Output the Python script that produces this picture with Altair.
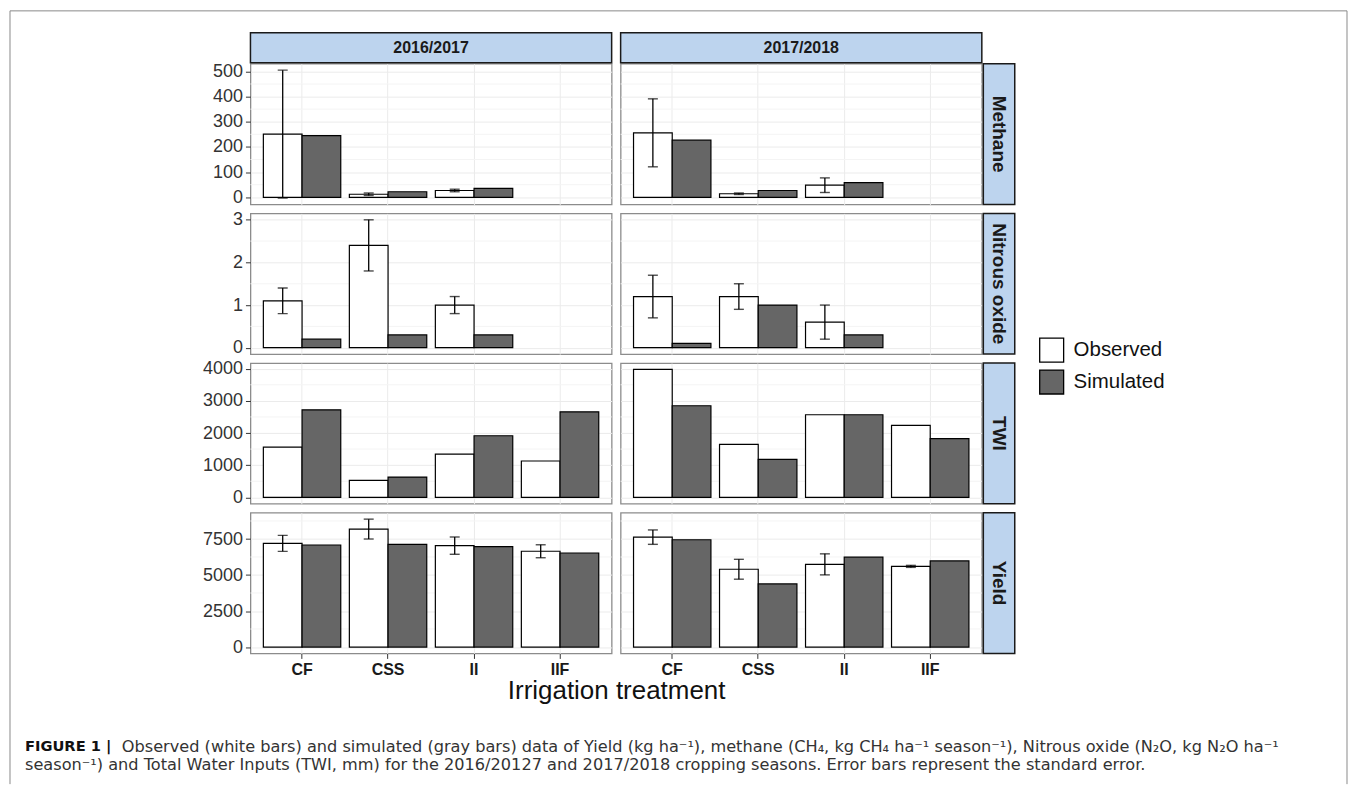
import altair as alt
import pandas as pd

seasons = ["2016/2017", "2017/2018"]
variables = ["Methane", "Nitrous oxide", "TWI", "Yield"]
treatments = ["CF", "CSS", "II", "IIF"]
series = ["Observed", "Simulated"]

# values per treatment (CF, CSS, II, IIF); None = not available
methane_obs_2016 = [251, 12, 27, None]
methane_se_2016 = [254, 5, 5, None]
methane_sim_2016 = [245, 22, 35, None]
methane_obs_2017 = [256, 14, 48, None]
methane_se_2017 = [135, 3, 29, None]
methane_sim_2017 = [227, 27, 58, None]

n2o_obs_2016 = [1.1, 2.4, 1.0, None]
n2o_se_2016 = [0.3, 0.6, 0.2, None]
n2o_sim_2016 = [0.2, 0.3, 0.3, None]
n2o_obs_2017 = [1.2, 1.2, 0.6, None]
n2o_se_2017 = [0.5, 0.3, 0.4, None]
n2o_sim_2017 = [0.1, 1.0, 0.3, None]

twi_obs_2016 = [1560, 530, 1345, 1130]
twi_sim_2016 = [2720, 630, 1915, 2660]
twi_obs_2017 = [3975, 1646, 2567, 2236]
twi_sim_2017 = [2847, 1180, 2567, 1823]

yield_obs_2016 = [7200, 8190, 7040, 6650]
yield_se_2016 = [555, 690, 600, 450]
yield_sim_2016 = [7085, 7130, 6970, 6530]
yield_obs_2017 = [7630, 5400, 5740, 5600]
yield_se_2017 = [500, 690, 730, 70]
yield_sim_2017 = [7450, 4380, 6240, 5980]

methane_ticks = [0, 100, 200, 300, 400, 500]
methane_minor = [50, 150, 250, 350, 450]
n2o_ticks = [0, 1, 2, 3]
n2o_minor = [0.5, 1.5, 2.5]
twi_ticks = [0, 1000, 2000, 3000, 4000]
twi_minor = [500, 1500, 2500, 3500]
yield_ticks = [0, 2500, 5000, 7500]
yield_minor = [1250, 3750, 6250, 8750]

x_title = "Irrigation treatment"
caption_head = "FIGURE 1 |"
caption_line1 = ("Observed (white bars) and simulated (gray bars) data of Yield (kg ha\u207b\u00b9), "
                 "methane (CH\u2084, kg CH\u2084 ha\u207b\u00b9 season\u207b\u00b9), Nitrous oxide (N\u2082O, kg N\u2082O ha\u207b\u00b9")
caption_line2 = ("season\u207b\u00b9) and Total Water Inputs (TWI, mm) for the 2016/20127 and 2017/2018 "
                 "cropping seasons. Error bars represent the standard error.")

OBS = {
    "Methane": [methane_obs_2016, methane_obs_2017],
    "Nitrous oxide": [n2o_obs_2016, n2o_obs_2017],
    "TWI": [twi_obs_2016, twi_obs_2017],
    "Yield": [yield_obs_2016, yield_obs_2017],
}
SIM = {
    "Methane": [methane_sim_2016, methane_sim_2017],
    "Nitrous oxide": [n2o_sim_2016, n2o_sim_2017],
    "TWI": [twi_sim_2016, twi_sim_2017],
    "Yield": [yield_sim_2016, yield_sim_2017],
}
SE = {
    "Methane": [methane_se_2016, methane_se_2017],
    "Nitrous oxide": [n2o_se_2016, n2o_se_2017],
    "TWI": [None, None],
    "Yield": [yield_se_2016, yield_se_2017],
}
TICKS = {
    "Methane": (methane_ticks, methane_minor),
    "Nitrous oxide": (n2o_ticks, n2o_minor),
    "TWI": (twi_ticks, twi_minor),
    "Yield": (yield_ticks, yield_minor),
}

W, H = 362, 141
GAP = 9
FONT = "Liberation Sans"
CAP_FONT = "DejaVu Sans"
STRIP_FILL = "#BDD4EE"
GRID = "#EBEBEB"
MINOR = "#F4F4F4"
SIM_FILL = "#666666"


def tables(var, c):
    obs, sim = OBS[var][c], SIM[var][c]
    se = SE[var][c]
    bars, errs = [], []
    for i, t in enumerate(treatments):
        if obs[i] is not None:
            bars.append({"treatment": t, "series": "Observed", "value": obs[i]})
            if se is not None and se[i] is not None:
                errs.append({"treatment": t, "series": "Observed",
                             "lo": obs[i] - se[i], "hi": obs[i] + se[i]})
        if sim[i] is not None:
            bars.append({"treatment": t, "series": "Simulated", "value": sim[i]})
    return pd.DataFrame(bars), pd.DataFrame(errs)


def row_domain(var):
    vals = [0]
    for c in range(len(seasons)):
        b, e = tables(var, c)
        vals += list(b["value"])
        if len(e):
            vals += list(e["lo"]) + list(e["hi"])
    lo, hi = min(vals), max(vals)
    pad = 0.05 * (hi - lo)
    return [lo - pad, hi + pad]


fill_scale = alt.Scale(domain=series, range=["white", SIM_FILL])
legend = alt.Legend(title=None, orient="none", legendX=790, legendY=274,
                    symbolType="square", symbolSize=576, symbolStrokeColor="black",
                    symbolStrokeWidth=1.3, symbolOpacity=1, labelFontSize=20.5,
                    labelFont=FONT, labelColor="#111", rowPadding=2, labelOffset=9,
                    padding=0)
x_scale = alt.Scale(domain=treatments, paddingInner=0.1, paddingOuter=0.15)
off_scale = alt.Scale(domain=series, paddingInner=0, paddingOuter=0)


def make_panel(r, c):
    var = variables[r]
    season = seasons[c]
    bars, errs = tables(var, c)
    ticks, minor = TICKS[var]
    y_scale = alt.Scale(domain=row_domain(var), nice=False, zero=False)

    if c == 0:
        y_axis = alt.Axis(title=None, values=ticks, format="d", labelFontSize=18,
                          labelColor="#333333", labelFont=FONT, tickColor="#333333",
                          tickSize=5, tickWidth=1, labelPadding=3, domain=False, grid=True,
                          gridColor=GRID, gridWidth=1)
    else:
        y_axis = alt.Axis(title=None, values=ticks, labels=False, ticks=False,
                          domain=False, grid=True, gridColor=GRID, gridWidth=1)

    if r == len(variables) - 1:
        kw = dict(labelAngle=0, labelFontWeight="bold", labelFontSize=16,
                  labelColor="#1a1a1a", labelFont=FONT, tickSize=5, tickColor="#333333",
                  labelPadding=3, domain=False, grid=True, gridColor=GRID,
                  bandPosition=0.5)
        if c == 0:
            x_axis = alt.Axis(title=x_title, titleFontSize=26, titleFontWeight="normal",
                              titleFont=FONT, titleColor="#111", titleX=(2 * W + GAP) / 2,
                              titleY=37, titleBaseline="middle", titleAlign="center", **kw)
        else:
            x_axis = alt.Axis(title=None, **kw)
    else:
        x_axis = alt.Axis(title=None, labels=False, ticks=False, domain=False, grid=True,
                          gridColor=GRID, bandPosition=0.5)

    X = alt.X("treatment:N", scale=x_scale, axis=x_axis, sort=treatments)
    XO = alt.XOffset("series:N", scale=off_scale, sort=series)

    layers = []
    layers.append(
        alt.Chart(pd.DataFrame({"v": minor})).mark_rule(color=MINOR, strokeWidth=1).encode(
            y=alt.Y("v:Q", scale=y_scale, axis=y_axis)))
    layers.append(
        alt.Chart(bars).mark_bar(stroke="black", strokeWidth=1.2).encode(
            x=X, xOffset=XO,
            y=alt.Y("value:Q", scale=y_scale, axis=y_axis),
            fill=alt.Fill("series:N", scale=fill_scale, legend=legend)))
    if len(errs):
        layers.append(
            alt.Chart(errs).mark_rule(color="black", strokeWidth=1.3).encode(
                x=X, xOffset=XO,
                y=alt.Y("lo:Q", scale=y_scale, axis=y_axis), y2="hi:Q"))
        for f in ["lo", "hi"]:
            layers.append(
                alt.Chart(errs).mark_tick(color="black", thickness=1.4, size=10,
                                          orient="horizontal").encode(
                    x=X, xOffset=XO, y=alt.Y(f + ":Q", scale=y_scale, axis=y_axis)))

    if r == 0:
        sdf = pd.DataFrame({"label": [season]})
        layers.append(alt.Chart(sdf).mark_rect(fill=STRIP_FILL, stroke="#1a1a1a",
                                               strokeWidth=1.5).encode(
            x=alt.value(0), x2=alt.value(W), y=alt.value(-31), y2=alt.value(-1)))
        layers.append(alt.Chart(sdf).mark_text(fontSize=16, fontWeight="bold", font=FONT,
                                               color="#1a1a1a", baseline="middle").encode(
            x=alt.value(W / 2), y=alt.value(-16), text="label:N"))
    if c == len(seasons) - 1:
        vdf = pd.DataFrame({"label": [var]})
        layers.append(alt.Chart(vdf).mark_rect(fill=STRIP_FILL, stroke="#1a1a1a",
                                               strokeWidth=1.5).encode(
            x=alt.value(W + 1.5), x2=alt.value(W + 33), y=alt.value(0), y2=alt.value(H)))
        layers.append(alt.Chart(vdf).mark_text(fontSize=19, fontWeight="bold", font=FONT,
                                               color="#1a1a1a", angle=90,
                                               baseline="middle").encode(
            x=alt.value(W + 17), y=alt.value(H / 2), text="label:N"))

    if r == 0 and c == 0:
        one = alt.Data(values=[{}])
        for xa, ya, xb, yb in [(-241, -53, -241, 722), (-241, -53, 1099, -53),
                               (1099, -53, 1099, 722)]:
            layers.append(alt.Chart(one).mark_rule(color="#8a8a8a", strokeWidth=1).encode(
                x=alt.value(xa), y=alt.value(ya), x2=alt.value(xb), y2=alt.value(yb)))
        hd = pd.DataFrame({"t": [caption_head]})
        layers.append(alt.Chart(hd).mark_text(fontSize=14.7, fontWeight="bold", font=CAP_FONT,
                                              color="#111", align="left",
                                              baseline="middle").encode(
            x=alt.value(-226), y=alt.value(684.5), text="t:N"))
        l1 = pd.DataFrame({"t": [caption_line1]})
        layers.append(alt.Chart(l1).mark_text(fontSize=16.2, font=CAP_FONT, color="#333",
                                              align="left", baseline="middle").encode(
            x=alt.value(-129), y=alt.value(684.5), text="t:N"))
        l2 = pd.DataFrame({"t": [caption_line2]})
        layers.append(alt.Chart(l2).mark_text(fontSize=16.2, font=CAP_FONT, color="#333",
                                              align="left", baseline="middle").encode(
            x=alt.value(-226), y=alt.value(703), text="t:N"))

    return alt.layer(*layers).properties(width=W, height=H)


cells = [make_panel(r, c) for r in range(len(variables)) for c in range(len(seasons))]

chart = alt.concat(*cells, columns=2, spacing=GAP, bounds="flush").properties(
    padding=0, background="white"
).configure(font=FONT).configure_view(stroke="#8c8c8c", strokeWidth=1.3)

chart.save("out.html", embed_options={"renderer": "svg", "actions": False})
